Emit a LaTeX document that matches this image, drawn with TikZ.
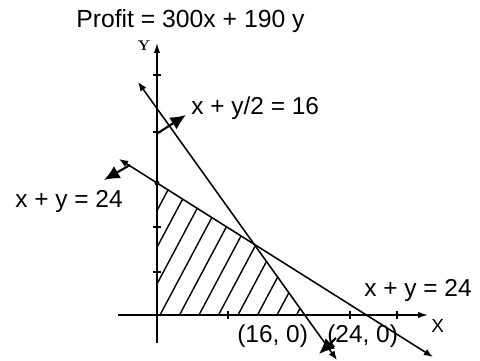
\documentclass[tikz,border=0pt]{standalone}
\usepackage{fontspec}
\setsansfont{Liberation Sans}
\usetikzlibrary{arrows.meta,calc}
\tikzset{
  axis/.style  ={-{Latex[length=7pt,width=4.5pt]}, line width=1pt},
  bound/.style ={{Latex[length=6.5pt,width=5pt]}-{Latex[length=6.5pt,width=5pt]}, line width=1.1pt},
  side/.style  ={-{Latex[length=11pt,width=10pt]}, line width=1.5pt},
  hatch/.style ={line width=1pt},
  tick/.style  ={line width=0.8pt},
  lbl/.style   ={anchor=base west, inner sep=0pt, font=\sffamily\fontsize{17.4}{20}\selectfont},
}
\begin{document}
\begin{tikzpicture}[x=0.25mm, y=0.25mm]
  \useasboundingbox (-157,-46) rectangle (323,315);

  % axes
  \coordinate (O) at (0,0);
  \coordinate (xl) at (-39,0);
  \coordinate (xr) at (271,0);
  \coordinate (yb) at (0,-28);
  \coordinate (yt) at (0,272);

  % constraint lines
  \coordinate (a1) at (-19,233);
  \coordinate (b1) at (180,-45);
  \coordinate (a2) at (-38,156);
  \coordinate (b2) at (276,-42);
  \coordinate (P) at (intersection of a2--b2 and O--yt);
  \coordinate (Q) at (intersection of a1--b1 and a2--b2);
  \coordinate (R) at (intersection of a1--b1 and O--xr);

  % feasible region
  \begin{scope}
    \clip (O) -- (P) -- (Q) -- (R) -- cycle;
    \foreach \k in {-3,...,7} {
      \draw[hatch] (3+19.5*\k,0) -- ++(62:320);
    }
  \end{scope}

  \draw[axis] (xl) -- (xr);
  \draw[axis] (yb) -- (yt);
  \foreach \t in {71,193,240} \draw[tick] (\t,-4) -- (\t,4);
  \foreach \t in {43,88,183,240} \draw[tick] (-4,\t) -- (4,\t);

  \draw[bound] (a1) -- (b1);
  \draw[bound] (a2) -- (b2);
  \fill (P) circle (2.5);

  % side arrows
  \coordinate (s1) at (1,182);   \coordinate (e1) at (29,200);
  \coordinate (s2) at (-27,150); \coordinate (e2) at (-53,135);
  \coordinate (s3) at (179,-23); \coordinate (e3) at (162,-39);
  \draw[side] (s1) -- (e1);
  \draw[side] (s2) -- (e2);
  \draw[side] (s3) -- (e3);

  % labels
  \node[lbl, font=\sffamily\fontsize{17.6}{20}\selectfont] (title) at (-81,287) {Profit = 300x + 190 y};
  \node[lbl] (l1) at (34,200) {x + y/2 = 16};
  \node[lbl] (l2) at (-142,107) {x + y = 24};
  \node[lbl] (l3) at (207,18) {x + y = 24};
  \node[lbl] (p16) at (80,-27) {(16, 0)};
  \node[lbl] (p24) at (170,-27) {(24, 0)};
  \node[lbl, font=\sffamily\fontsize{13.5}{15}\selectfont] (xlab) at (274,-18) {X};
  \node[font=\bfseries\fontsize{10}{11}\selectfont, inner sep=0pt] (ylab) at (-13,269) {Y};
\end{tikzpicture}
\end{document}
